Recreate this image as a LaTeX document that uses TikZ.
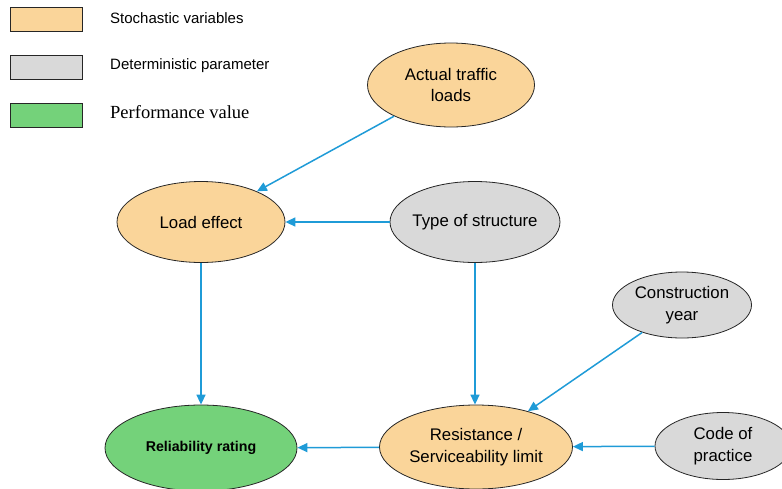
\documentclass[tikz,border=0pt]{standalone}
\usepackage{fontspec}
\setmainfont{Liberation Sans}
\newfontfamily\legendserif{Liberation Serif}
\usetikzlibrary{shapes.geometric,arrows.meta}
\definecolor{stoch}{HTML}{FAD59A}
\definecolor{determ}{HTML}{D9D9D9}
\definecolor{perf}{HTML}{74D27A}
\definecolor{link}{HTML}{1F9BD7}
\tikzset{
  var/.style={ellipse, draw=black!85, line width=0.8pt, inner sep=0pt,
    align=center, font=\fontsize{16.8}{21.5}\selectfont},
  stochvar/.style={var, fill=stoch},
  detvar/.style={var, fill=determ},
  perfvar/.style={var, fill=perf},
  legbox/.style={draw=black!85, line width=1pt, minimum width=72pt, minimum height=24pt, inner sep=0pt},
  legtext/.style={anchor=west, inner sep=0pt, font=\fontsize{15}{17}\selectfont},
  link/.style={draw=link, line width=1.5pt, -{Triangle[length=10pt,width=9pt]}}
}
\begin{document}
\begin{tikzpicture}[x=1pt,y=-1pt]
\useasboundingbox (0,0) rectangle (782,488);
\begin{scope}
\clip (0,0) rectangle (782,488);

% legend
\node[legbox, fill=stoch] (l1) at (46,19) {};
\node[legbox, fill=determ] (l2) at (46,67) {};
\node[legbox, fill=perf] (l3) at (46,115) {};
\node[legtext] (t1) at (110,18) {Stochastic variables};
\node[legtext] (t2) at (110,66) {Deterministic parameter};
\node[legtext, font=\legendserif\fontsize{18.5}{20}\selectfont] (t3) at (110,112) {Performance value};

% variables
\node[stochvar, minimum width=167pt, minimum height=84pt] (traffic) at (451,85) {Actual traffic\\loads};
\node[stochvar, minimum width=168pt, minimum height=81pt] (load) at (201,222) {Load effect};
\node[detvar, minimum width=170pt, minimum height=81pt, inner xsep=-6pt] (type) at (475,222) {Type of structure};
\node[detvar, minimum width=139pt, minimum height=66pt] (year) at (682,305) {Construction\\year};
\node[detvar, minimum width=136pt, minimum height=67pt] (code) at (723,446) {Code of\\practice};
\node[stochvar, minimum width=193pt, minimum height=84pt] (res) at (476,447) {Resistance /\\Serviceability limit};
\node[perfvar, minimum width=192pt, minimum height=86pt, font=\bfseries\fontsize{14.2}{17}\selectfont] (rel) at (201,448) {Reliability rating};

% influences
\draw[link] (traffic) -- (load);
\draw[link] (type) -- (load);
\draw[link] (load) -- (rel);
\draw[link] (type.south) -- (res.north -| type.south);
\draw[link] (year) -- (res);
\draw[link] (code) -- (res);
\draw[link] (res) -- (rel);
\end{scope}
\end{tikzpicture}
\end{document}
